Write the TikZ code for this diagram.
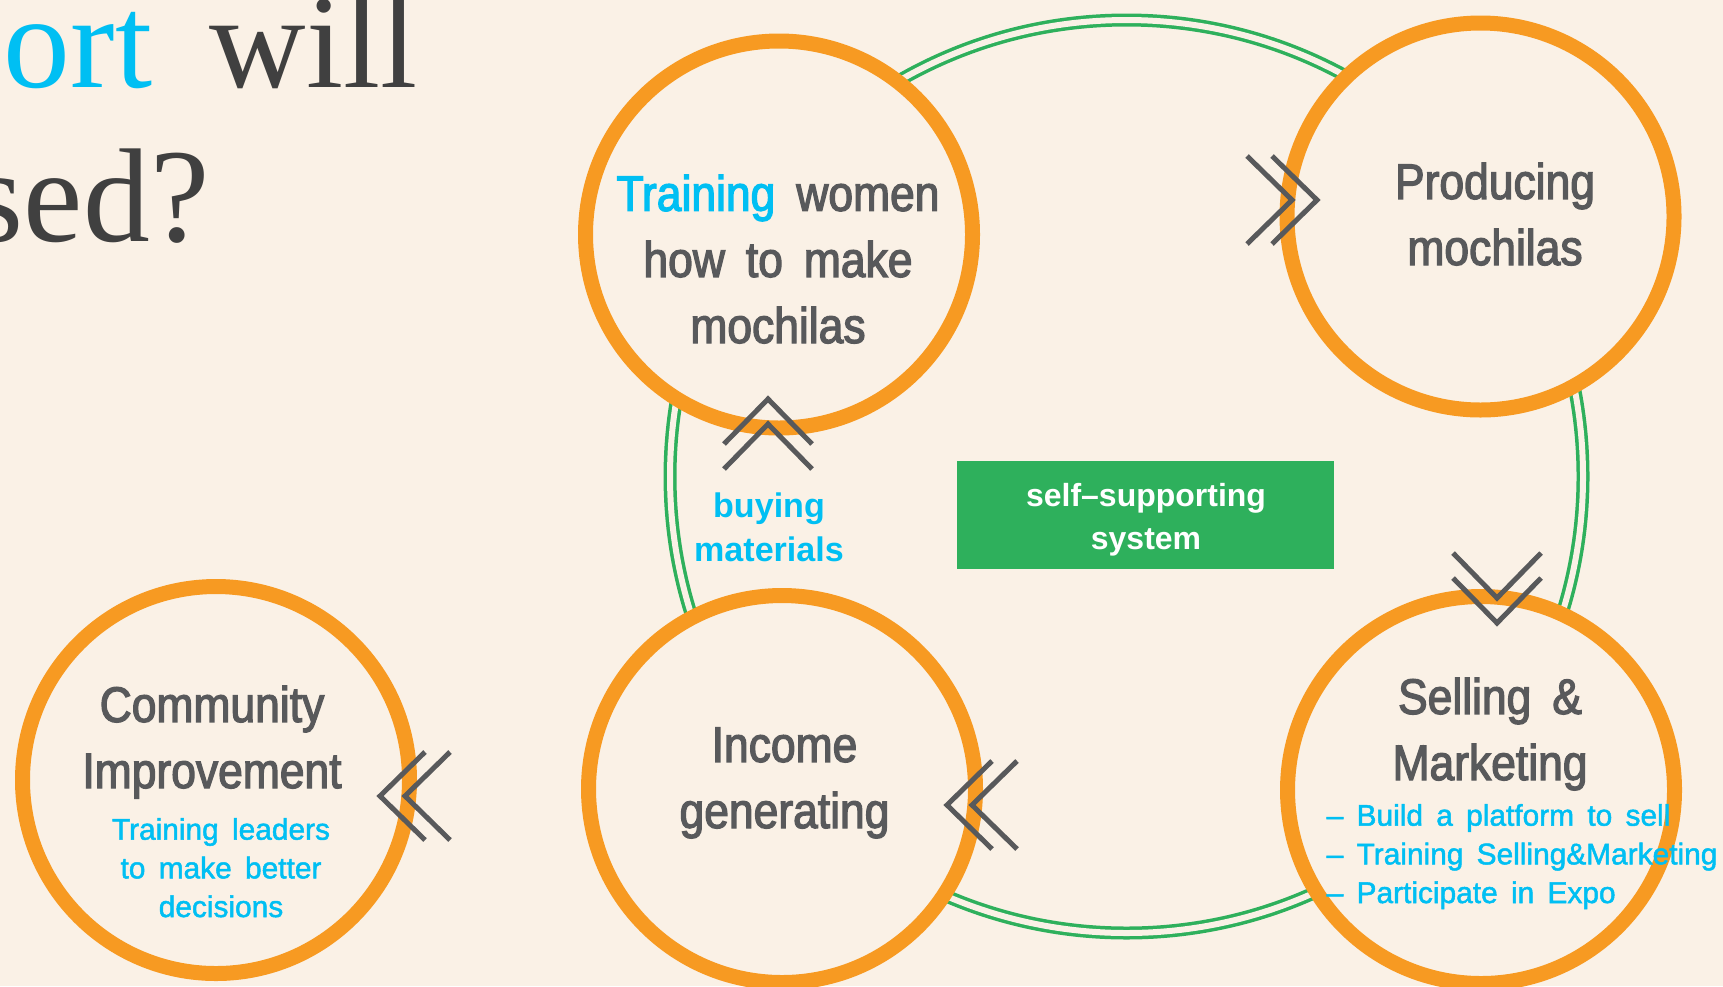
\documentclass[tikz,border=0pt]{standalone}
\usepackage{fontspec}
\setmainfont{Liberation Sans}
\newfontfamily\stagefont[FakeStretch=0.89,FakeBold=2.5,WordSpace=1.7,Ligatures=TeX]{Liberation Sans}
\newfontfamily\notefont[FakeBold=1.6,WordSpace=1.6,Ligatures=TeX]{Liberation Sans}
\newfontfamily\headfont{Liberation Serif}
\usetikzlibrary{positioning}
\definecolor{Paper}{HTML}{FAF1E6}
\definecolor{Ring}{HTML}{F79A22}
\definecolor{Loop}{HTML}{2EB05C}
\definecolor{Sky}{HTML}{00BFF3}
\definecolor{Ink}{HTML}{58595B}
\definecolor{Head}{HTML}{404040}

\tikzset{
  stage/.style={circle, draw=Ring, line width=1.5mm, fill=Paper, inner sep=0pt, minimum size=38.7mm},
  stagetext/.style={text=Ink, font=\stagefont\fontsize{14.2}{18.8}\selectfont, align=center, anchor=base, inner sep=0pt},
  note/.style={text=Sky, font=\notefont\fontsize{8.5}{11}\selectfont, align=center, anchor=base, inner sep=0pt},
  buy/.style={text=Sky, font=\bfseries\fontsize{9.7}{12.5}\selectfont, align=center, anchor=base, inner sep=0pt},
  head/.style={font=\headfont\fontsize{38}{46}\selectfont, inner sep=0pt},
  box/.style={fill=Loop, minimum width=37.7mm, minimum height=10.8mm, inner sep=0pt},
  boxtext/.style={text=white, font=\bfseries\fontsize{9.1}{12.2}\selectfont, align=center, anchor=base, inner sep=0pt},
  loop/.style={draw=Loop, line width=0.35mm, double=Paper, double distance=0.6mm},
  chev/.style={draw=Ink, line width=0.5mm},
  twin/.pic={
    \draw[chev] (-70,-44) -- (-25,0) -- (-70,44);
    \draw[chev] (-45,-44) -- (0,0) -- (-45,44);
  }
}

\begin{document}
\begin{tikzpicture}[x=0.1mm, y=-0.1mm]
  \fill[Paper] (0,0) rectangle (1723,986);
  \useasboundingbox (0,0) rectangle (1723,986);

  % title, cut at the left edge
  \node[head, text=Sky, anchor=base east] (ort) at (153,87) {ort};
  \node[head, text=Head, anchor=base west] (will) at (209,87) {will};
  \node[head, text=Head, anchor=base east] (sed) at (210,241) {sed?};

  % the loop behind the stages
  \coordinate (hub) at (1126.5,476.5);
  \draw[loop] (hub) circle [radius=45.65mm];

  \node[stage] (train) at (779,234.5) {};
  \node[stage] (produce) at (1480.5,216.5) {};
  \node[stage] (income) at (782,789) {};
  \node[stage] (sell) at (1481,790) {};
  \node[stage] (community) at (216,780) {};

  \pic at ([shift={(-163.5,-16.5)}]produce.center) {twin};
  \pic[rotate=90] at ([shift={(-11,164.5)}]train.center) {twin};
  \pic[rotate=-90] at ([shift={(16,-167)}]sell.center) {twin};
  \pic[rotate=180] at ([shift={(165,16)}]income.center) {twin};
  \pic[rotate=180] at ([shift={(164,16)}]community.center) {twin};

  % texts, placed by the baseline of their last line
  \node[stagetext] (train text) at ([shift={(-1,108.5)}]train.center)
    {\textcolor{Sky}{Training} women\\how to make\\mochilas};
  \node[stagetext] (produce text) at ([shift={(14.5,48.5)}]produce.center)
    {Producing\\mochilas};
  \node[stagetext] (income text) at ([shift={(2.5,39)}]income.center)
    {Income\\generating};
  \node[stagetext] (sell text) at ([shift={(9,-10)}]sell.center)
    {Selling \&\\Marketing};
  \node[note, align=left, anchor=base west] (sell list) at ([shift={(-155,113)}]sell.center)
    {-- Build a platform to sell\\-- Training Selling\&Marketing\\-- Participate in Expo};
  \node[stagetext] (community text) at ([shift={(-4,8)}]community.center)
    {Community\\Improvement};
  \node[note] (community note) at ([shift={(5,137)}]community.center)
    {Training leaders\\to make better\\decisions};

  \node[buy] (buying) at ([shift={(-10,326.5)}]train.center) {buying\\materials};
  \node[box] (self) at (1145.5,514.5) {};
  \node[boxtext] (self text) at ([shift={(0.5,34.5)}]self.center) {self--supporting\\system};
\end{tikzpicture}
\end{document}
